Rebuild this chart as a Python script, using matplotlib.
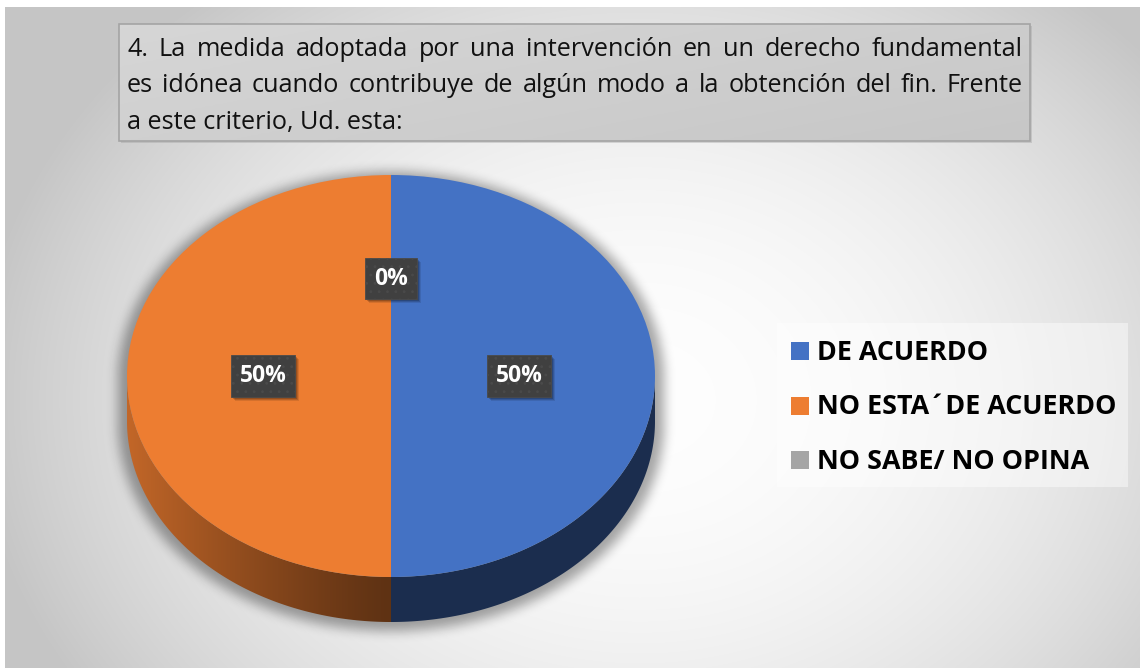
import numpy as np
import matplotlib
matplotlib.use('Agg')
import matplotlib.pyplot as plt
from matplotlib.patches import Rectangle, Polygon
from matplotlib.colors import to_rgb
from matplotlib.transforms import IdentityTransform

# ---------------- data ----------------
categories = ['DE ACUERDO', 'NO ESTA\u00b4DE ACUERDO', 'NO SABE/ NO OPINA']
values = [50, 50, 0]
colors = ['#4472C4', '#ED7D31', '#A5A5A5']
title_lines = ['4. La medida adoptada por una intervención en un derecho fundamental',
               'es idónea cuando contribuye de algún modo a la obtención del fin. Frente',
               'a este criterio, Ud. esta:']

plt.rcParams['font.family'] = ['Open Sans', 'DejaVu Sans']
plt.rcParams['hatch.linewidth'] = 0.8

W, H = 1140, 668
fig = plt.figure(figsize=(W / 100, H / 100), dpi=100)
fig.patch.set_facecolor('white')

bg = fig.add_axes([0, 0, 1, 1])
bg.set_xlim(0, W)
bg.set_ylim(H, 0)
bg.axis('off')

# ---- background radial gradient ----
yy, xx = np.mgrid[0:H, 0:W] + 0.5
r = np.sqrt(((xx - 640) / 650) ** 2 + ((yy - 400) / 520) ** 2)
v = np.clip(0.995 - 0.21 * r ** 2, 0.775, 1.0)
img = np.dstack([v, v, v])[7:, 5:]
bg.imshow(img, extent=(5, W, H, 7), aspect='auto', zorder=0, interpolation='bilinear')

# ---- pie geometry (pixels) ----
cx, cy, a, b, depth = 391, 376, 264, 201, 45

# ---- soft shadow under the pie ----
def box_blur(arr, rad, axis):
    c = np.cumsum(np.pad(arr, [(rad + 1, rad) if i == axis else (0, 0) for i in range(2)], mode='edge'), axis=axis)
    if axis == 0:
        return (c[2 * rad + 1:, :] - c[:-2 * rad - 1, :]) / (2 * rad + 1)
    return (c[:, 2 * rad + 1:] - c[:, :-2 * rad - 1]) / (2 * rad + 1)

sa, sb, scy = a + 9, b + 6, cy + 3
u = (xx - cx) / sa
top_in = u ** 2 + ((yy - scy) / sb) ** 2 <= 1
bot_in = u ** 2 + ((yy - scy - depth) / sb) ** 2 <= 1
mid_in = (np.abs(u) <= 1) & (yy >= scy) & (yy <= scy + depth)
mask = (top_in | bot_in | mid_in).astype(float)
for _ in range(3):
    mask = box_blur(mask, 5, 0)
    mask = box_blur(mask, 5, 1)
shadow = np.zeros((H, W, 4))
shadow[..., 3] = 0.35 * mask
bg.imshow(shadow, extent=(0, W, H, 0), aspect='auto', zorder=1)

# ---- title box ----
bg.add_patch(Rectangle((121, 26), 911, 117, fc='#9a9a9a', ec='none', alpha=0.35, zorder=2))
tgrad = np.linspace(0, 1, 200)
tg = 0.84 - 0.06 * (tgrad[None, :] * 0.6 + np.linspace(0, 1, 60)[:, None] * 0.4)
im = bg.imshow(np.dstack([tg, tg, tg]), extent=(119, 1030, 141, 24), aspect='auto', zorder=3)
im.set_clip_path(Rectangle((119, 24), 911, 117, transform=bg.transData))
bg.add_patch(Rectangle((119, 24), 911, 117, fc='none', ec='#a4a4a4', lw=1.2, zorder=4))

renderer = fig.canvas.get_renderer()
tkw = dict(fontsize=18.2, color='#111111', va='baseline', ha='left', zorder=5)

def justify(line, x0, x1, y):
    words = line.split(' ')
    ts = [bg.text(0, y, w, **tkw) for w in words]
    widths = [t.get_window_extent(renderer).width for t in ts]
    gap = (x1 - x0 - sum(widths)) / (len(words) - 1)
    x = x0
    for t, w in zip(ts, widths):
        t.set_x(x)
        x += w + gap

baselines = [56, 92.5, 129]
for i, line in enumerate(title_lines):
    if i < len(title_lines) - 1:
        justify(line, 127, 1023, baselines[i])
    else:
        bg.text(127, baselines[i], line, **tkw)

# ---- legend ----
bg.add_patch(Rectangle((777, 323), 351, 164, fc='white', alpha=0.45, ec='none', zorder=2))
leg_base = [360, 414.5, 469]
for lab, col, yb in zip(categories, colors, leg_base):
    bg.add_patch(Rectangle((791, yb - 18), 18, 18, fc=col, ec='none', zorder=3))
    bg.text(817, yb, lab, fontsize=19.4, fontweight='bold', color='black',
            va='baseline', ha='left', zorder=3)

# ---- pie ----
ax = fig.add_axes([0, 0, 1, 1])
ax.patch.set_alpha(0)
wedges, texts, autotexts = ax.pie(values, colors=colors, startangle=90, counterclock=False,
                                  autopct='%1.0f%%', pctdistance=0.485,
                                  wedgeprops=dict(linewidth=0),
                                  textprops=dict(color='white', fontsize=16.5, fontweight='bold'))
ax.set_aspect('auto')
ax.set_position([0, 0, 1, 1])
ax.axis('off')
for w in wedges:
    w.set_zorder(3)

d = depth / b
for w in wedges:
    th = np.radians(np.linspace(w.theta1, w.theta2, 600))
    vis = np.sin(th) <= 1e-9
    if not vis.any():
        continue
    idx = np.where(vis)[0]
    runs = np.split(idx, np.where(np.diff(idx) > 1)[0] + 1)
    base = np.array(to_rgb(w.get_facecolor()))
    for run in runs:
        t = th[run]
        if len(t) < 2:
            continue
        xs, ys = np.cos(t), np.sin(t)
        pts = np.vstack([np.column_stack([xs, ys]), np.column_stack([xs[::-1], ys[::-1] - d])])
        poly = Polygon(pts, closed=True, fc='none', ec='none', transform=ax.transData)
        ax.add_patch(poly)
        gx = np.linspace(-1, 1, 400)
        f = 0.40 + 0.42 * np.clip(-gx, 0, 1) ** 1.2
        grad = np.clip(base[None, :] * f[:, None], 0, 1)[None, :, :]
        gim = ax.imshow(grad, extent=(-1, 1, -1 - d, 0), aspect='auto', zorder=2,
                        interpolation='bilinear')
        gim.set_clip_path(poly)
ax.set_xlim(-cx / a, (W - cx) / a)
ax.set_ylim((cy - H) / b, cy / b)

for t in autotexts:
    t.set_zorder(6)
    t.set_bbox(dict(boxstyle='square,pad=0.38', fc='#404040', ec='#4a4a4a', lw=0.6, hatch='..'))

# drop shadows for the label boxes (drawn as patches in display coords)
fig.canvas.draw()
for t in autotexts:
    ext = t.get_bbox_patch().get_window_extent(renderer)
    for k, al in ((4, 0.10), (3, 0.14), (2, 0.18)):
        ax.add_patch(Rectangle((ext.x0 + k, ext.y0 - k), ext.width, ext.height,
                               transform=IdentityTransform(), fc='black', alpha=al,
                               ec='none', zorder=5))

fig.savefig('out.png', dpi=100, facecolor='white')
